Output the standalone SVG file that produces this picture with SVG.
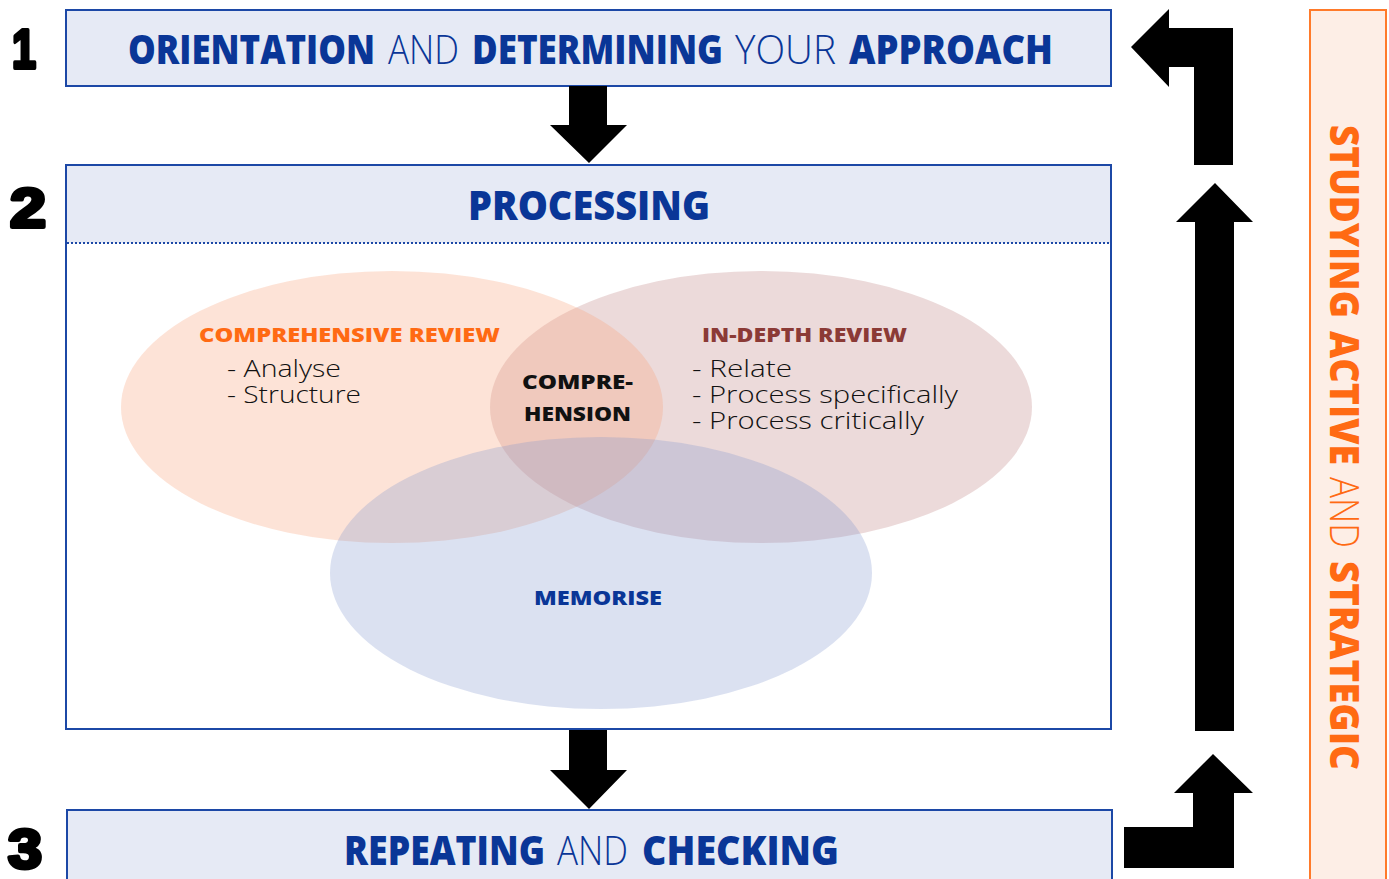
<svg xmlns="http://www.w3.org/2000/svg" width="1389" height="879" viewBox="0 0 1389 879">
<style>
.box{fill:#e6eaf5;stroke:#1c48a6;stroke-width:2}
.hd{font-family:"Open Sans","Liberation Sans",sans-serif;font-size:40px;fill:#0a3697}
.b{font-weight:800}
.l{font-weight:300}
.num{font-family:"Liberation Sans",Arial,sans-serif;font-weight:900;font-size:56px;fill:#000;stroke:#000;stroke-width:4;stroke-linejoin:round}
.arrow{fill:#000}
.ttl{font-family:"Open Sans","Liberation Sans",sans-serif;font-weight:800;font-size:20px}
.item{font-family:"Open Sans","Liberation Sans",sans-serif;font-weight:300;font-size:23px;fill:#111}
.side{font-family:"Open Sans","Liberation Sans",sans-serif;font-size:40px;fill:#ff6a13}
</style>
<rect width="1389" height="879" fill="#fff"/>

<g id="side-panel">
<rect x="1310" y="10" width="76" height="880" fill="#fdeee6" stroke="#ff7a2a" stroke-width="2"/>
<text class="side" transform="translate(1330,0) rotate(90)" y="0"><tspan class="b" x="125" textLength="193" lengthAdjust="spacingAndGlyphs">STUDYING</tspan><tspan class="b" x="331" textLength="134" lengthAdjust="spacingAndGlyphs">ACTIVE</tspan><tspan class="l" x="477" textLength="71" lengthAdjust="spacingAndGlyphs">AND</tspan><tspan class="b" x="561" textLength="209" lengthAdjust="spacingAndGlyphs">STRATEGIC</tspan></text>
</g>

<g id="step1">
<text class="num" x="12" y="68" textLength="24" lengthAdjust="spacingAndGlyphs">1</text>
<rect class="box" x="66" y="10" width="1045" height="76"/>
<text class="hd" y="64"><tspan class="b" x="128" textLength="247" lengthAdjust="spacingAndGlyphs">ORIENTATION</tspan><tspan class="l" x="388" textLength="71" lengthAdjust="spacingAndGlyphs">AND</tspan><tspan class="b" x="472" textLength="251" lengthAdjust="spacingAndGlyphs">DETERMINING</tspan><tspan class="l" x="735" textLength="101" lengthAdjust="spacingAndGlyphs">YOUR</tspan><tspan class="b" x="849" textLength="204" lengthAdjust="spacingAndGlyphs">APPROACH</tspan></text>
</g>

<g id="step2">
<text class="num" x="10" y="227" textLength="36" lengthAdjust="spacingAndGlyphs">2</text>
<rect x="66" y="165" width="1045" height="564" fill="#fff" stroke="#1c48a6" stroke-width="2"/>
<rect x="67" y="166" width="1043" height="77" fill="#e6eaf5"/>
<line x1="67" y1="243" x2="1110" y2="243" stroke="#1c48a6" stroke-width="2" stroke-dasharray="2,2"/>
<text class="hd b" x="468" y="220" textLength="242" lengthAdjust="spacingAndGlyphs">PROCESSING</text>
</g>

<g id="venn">
<ellipse cx="761" cy="407" rx="271" ry="136" fill="#b87878" fill-opacity="0.27"/>
<ellipse cx="392" cy="407" rx="271" ry="136" fill="#f8a27a" fill-opacity="0.3"/>
<ellipse cx="601" cy="573" rx="271" ry="136" fill="#7f95cc" fill-opacity="0.28"/>
</g>

<g id="comprehensive-review">
<text class="ttl" x="199" y="342" fill="#ff6a13" textLength="301" lengthAdjust="spacingAndGlyphs">COMPREHENSIVE REVIEW</text>
<text class="item" x="227" y="377" textLength="114" lengthAdjust="spacingAndGlyphs">- Analyse</text>
<text class="item" x="227" y="403" textLength="134" lengthAdjust="spacingAndGlyphs">- Structure</text>
</g>

<g id="in-depth-review">
<text class="ttl" x="702" y="342" fill="#8b3a36" textLength="205" lengthAdjust="spacingAndGlyphs">IN-DEPTH REVIEW</text>
<text class="item" x="692" y="377" textLength="100" lengthAdjust="spacingAndGlyphs">- Relate</text>
<text class="item" x="692" y="403" textLength="266" lengthAdjust="spacingAndGlyphs">- Process specifically</text>
<text class="item" x="692" y="429" textLength="232" lengthAdjust="spacingAndGlyphs">- Process critically</text>
</g>

<g id="comprehension">
<text class="ttl" x="522" y="389" fill="#111" textLength="111" lengthAdjust="spacingAndGlyphs">COMPRE-</text>
<text class="ttl" x="524" y="421" fill="#111" textLength="107" lengthAdjust="spacingAndGlyphs">HENSION</text>
</g>

<g id="memorise">
<text class="ttl" x="534" y="605" fill="#0a3697" textLength="128" lengthAdjust="spacingAndGlyphs">MEMORISE</text>
</g>

<g id="step3">
<text class="num" x="8" y="868" textLength="34" lengthAdjust="spacingAndGlyphs">3</text>
<rect class="box" x="67" y="810" width="1045" height="80"/>
<text class="hd" y="865"><tspan class="b" x="344" textLength="201" lengthAdjust="spacingAndGlyphs">REPEATING</tspan><tspan class="l" x="557" textLength="71" lengthAdjust="spacingAndGlyphs">AND</tspan><tspan class="b" x="642" textLength="197" lengthAdjust="spacingAndGlyphs">CHECKING</tspan></text>
</g>

<g id="connectors">
<polygon class="arrow" points="569,86 607,86 607,125 627,125 589,163 550,125 569,125"/>
<polygon class="arrow" points="569,730 607,730 607,770 627,770 589,809 550,770 569,770"/>
<polygon class="arrow" points="1194,165 1233,165 1233,28 1169,28 1169,9 1131,47 1169,87 1169,67 1194,67"/>
<polygon class="arrow" points="1195,731 1234,731 1234,222 1253,222 1215,183 1176,222 1195,222"/>
<polygon class="arrow" points="1124,868 1234,868 1234,793 1253,793 1213,754 1174,793 1193,793 1193,827 1124,827"/>
</g>
</svg>
